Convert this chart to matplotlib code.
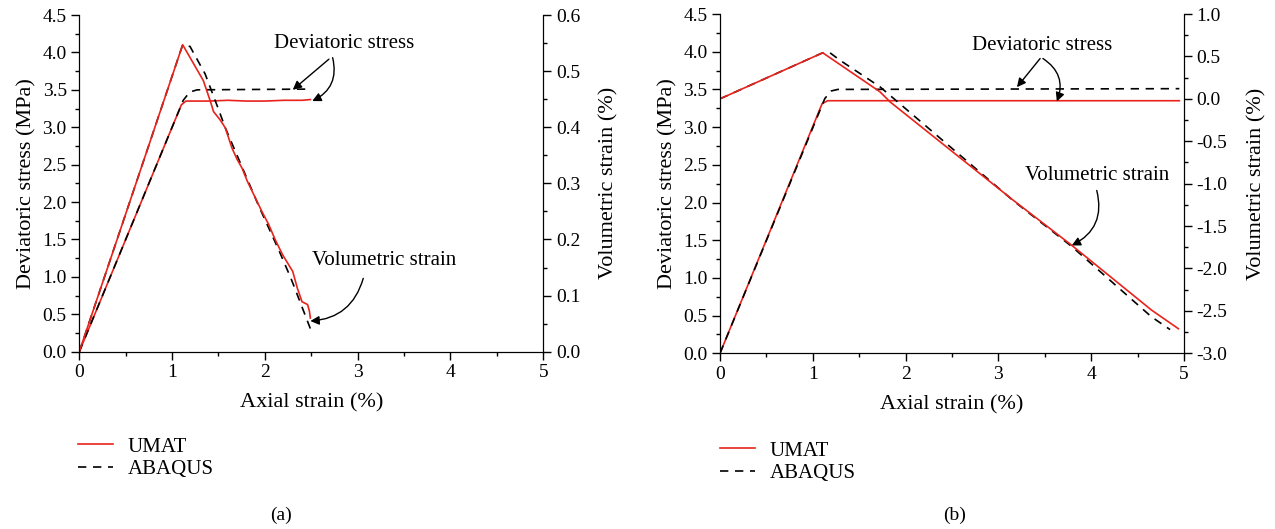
import matplotlib
matplotlib.use('Agg')
import matplotlib.pyplot as plt
from matplotlib.ticker import MultipleLocator, FormatStrFormatter

plt.rcParams['font.family'] = ['Liberation Serif', 'DejaVu Serif']

# ---------------- Panel (a) data ----------------
a_umat_dev_x = [0, 1.10, 1.15, 1.40, 1.60, 1.80, 2.00, 2.20, 2.40, 2.49]
a_umat_dev_y = [0, 3.30, 3.35, 3.35, 3.36, 3.35, 3.35, 3.36, 3.36, 3.37]
a_abaqus_dev_x = [0, 1.12, 1.19, 1.27, 2.49]
a_abaqus_dev_y = [0, 3.36, 3.47, 3.50, 3.51]
a_umat_vol_x = [0, 1.114, 1.337, 1.417, 1.446, 1.518, 1.573, 1.645, 1.70, 1.754,
                1.81, 1.88, 1.97, 2.04, 2.11, 2.19, 2.30, 2.35, 2.40, 2.46, 2.48, 2.49]
a_umat_vol_y = [0, 0.547, 0.483, 0.444, 0.428, 0.413, 0.399, 0.363, 0.343, 0.327,
                0.304, 0.280, 0.249, 0.227, 0.200, 0.173, 0.143, 0.113, 0.089, 0.084, 0.072, 0.060]
a_abaqus_vol_x = [0, 1.114, 1.193, 1.356, 1.50, 1.573, 1.93, 2.15, 2.28, 2.39, 2.49]
a_abaqus_vol_y = [0, 0.547, 0.544, 0.495, 0.432, 0.399, 0.261, 0.181, 0.131, 0.084, 0.041]

# ---------------- Panel (b) data ----------------
b_umat_dev_x = [0, 1.10, 1.16, 4.95]
b_umat_dev_y = [0, 3.31, 3.35, 3.35]
b_abaqus_dev_x = [0, 1.13, 1.20, 1.27, 4.95]
b_abaqus_dev_y = [0, 3.38, 3.48, 3.50, 3.51]
b_umat_vol_x = [0, 1.107, 1.724, 1.832, 3.16, 3.79, 4.65, 4.94]
b_umat_vol_y = [0, 0.543, 0.083, -0.035, -1.195, -1.726, -2.49, -2.71]
b_abaqus_vol_x = [0, 1.107, 1.185, 1.29, 1.724, 3.16, 3.79, 4.65, 4.85]
b_abaqus_vol_y = [0, 0.543, 0.543, 0.457, 0.142, -1.20, -1.74, -2.57, -2.72]

legend_labels = ['UMAT', 'ABAQUS']
xlabel = 'Axial strain (%)'
ylabel_left = 'Deviatoric stress (MPa)'
ylabel_right = 'Volumetric strain (%)'

RED = '#e8231c'
DASH = (0, (5, 4))
FS_TICK = 14
FS_LAB = 16
FS_ANN = 15

fig = plt.figure(figsize=(12.75, 5.29), dpi=100)


def style_axes(ax, ax2, ymajor, yminor, y2major, y2minor):
    for a in (ax, ax2):
        a.spines['top'].set_visible(False)
        a.tick_params(which='major', direction='out', length=5.5, width=1, labelsize=FS_TICK)
        a.tick_params(which='minor', direction='out', length=3, width=1)
    ax.xaxis.set_major_locator(MultipleLocator(1))
    ax.xaxis.set_minor_locator(MultipleLocator(0.5))
    ax.yaxis.set_major_locator(MultipleLocator(ymajor))
    ax.yaxis.set_minor_locator(MultipleLocator(yminor))
    ax.yaxis.set_major_formatter(FormatStrFormatter('%.1f'))
    ax2.yaxis.set_major_locator(MultipleLocator(y2major))
    ax2.yaxis.set_minor_locator(MultipleLocator(y2minor))
    ax2.yaxis.set_major_formatter(FormatStrFormatter('%.1f'))
    ax.set_xlabel(xlabel, fontsize=FS_LAB, labelpad=9)
    ax.set_ylabel(ylabel_left, fontsize=FS_LAB, labelpad=4)
    ax2.set_ylabel(ylabel_right, fontsize=FS_LAB, labelpad=14)


arrow_kw = dict(arrowstyle='-|>', color='black', lw=1.0, mutation_scale=13,
                shrinkA=0, shrinkB=0)

# ---------------- Panel (a) ----------------
ax1 = fig.add_axes([0.0622, 0.3352, 0.3639, 0.6364])
ax1b = ax1.twinx()
h1, = ax1.plot(a_umat_dev_x, a_umat_dev_y, color=RED, lw=1.2)
h2, = ax1.plot(a_abaqus_dev_x, a_abaqus_dev_y, color='black', lw=1.2, linestyle=DASH)
ax1b.plot(a_abaqus_vol_x, a_abaqus_vol_y, color='black', lw=1.2, linestyle=DASH)
ax1b.plot(a_umat_vol_x, a_umat_vol_y, color=RED, lw=1.2)
ax1.set_xlim(0, 5)
ax1.set_ylim(0, 4.5)
ax1b.set_ylim(0, 0.6)
style_axes(ax1, ax1b, 0.5, 0.25, 0.1, 0.05)

ax1.text(2.85, 4.12, 'Deviatoric stress', fontsize=FS_ANN, ha='center', va='center')
ax1.annotate('', xy=(2.30, 3.50), xytext=(2.69, 3.91),
             arrowprops=dict(**arrow_kw, connectionstyle='arc3,rad=0'))
ax1.annotate('', xy=(2.51, 3.35), xytext=(2.73, 3.93),
             arrowprops=dict(**arrow_kw, connectionstyle='arc3,rad=-0.4'))
ax1.text(3.29, 1.22, 'Volumetric strain', fontsize=FS_ANN, ha='center', va='center')
ax1.annotate('', xy=(2.49, 0.41), xytext=(3.06, 0.98),
             arrowprops=dict(**arrow_kw, connectionstyle='arc3,rad=-0.35'))

fig.legend([h1, h2], legend_labels, loc='upper left',
           bbox_to_anchor=(78 / 1275, 1 - 437 / 529), frameon=False,
           fontsize=FS_ANN, handlelength=1.7, handletextpad=0.7,
           labelspacing=0.15, borderpad=0, borderaxespad=0)
fig.text(281 / 1275, 1 - 515 / 529, '(a)', fontsize=FS_TICK, ha='center', va='center')

# ---------------- Panel (b) ----------------
ax2 = fig.add_axes([0.5647, 0.3321, 0.3639, 0.6414])
ax2b = ax2.twinx()
g1, = ax2.plot(b_umat_dev_x, b_umat_dev_y, color=RED, lw=1.2)
g2, = ax2.plot(b_abaqus_dev_x, b_abaqus_dev_y, color='black', lw=1.2, linestyle=DASH)
ax2b.plot(b_abaqus_vol_x, b_abaqus_vol_y, color='black', lw=1.2, linestyle=DASH)
ax2b.plot(b_umat_vol_x, b_umat_vol_y, color=RED, lw=1.2)
ax2.set_xlim(0, 5)
ax2.set_ylim(0, 4.5)
ax2b.set_ylim(-3.0, 1.0)
style_axes(ax2, ax2b, 0.5, 0.25, 0.5, 0.25)

ax2.text(3.47, 4.08, 'Deviatoric stress', fontsize=FS_ANN, ha='center', va='center')
ax2.annotate('', xy=(3.20, 3.53), xytext=(3.45, 3.91),
             arrowprops=dict(**arrow_kw, connectionstyle='arc3,rad=0'))
ax2.annotate('', xy=(3.63, 3.34), xytext=(3.48, 3.91),
             arrowprops=dict(**arrow_kw, connectionstyle='arc3,rad=-0.4'))
ax2.text(4.06, 2.36, 'Volumetric strain', fontsize=FS_ANN, ha='center', va='center')
ax2.annotate('', xy=(3.79, 1.43), xytext=(4.06, 2.16),
             arrowprops=dict(**arrow_kw, connectionstyle='arc3,rad=-0.4'))

fig.legend([g1, g2], legend_labels, loc='upper left',
           bbox_to_anchor=(720 / 1275, 1 - 441 / 529), frameon=False,
           fontsize=FS_ANN, handlelength=1.7, handletextpad=0.7,
           labelspacing=0.15, borderpad=0, borderaxespad=0)
fig.text(955 / 1275, 1 - 515 / 529, '(b)', fontsize=FS_TICK, ha='center', va='center')

fig.savefig('out.png', dpi=100)
